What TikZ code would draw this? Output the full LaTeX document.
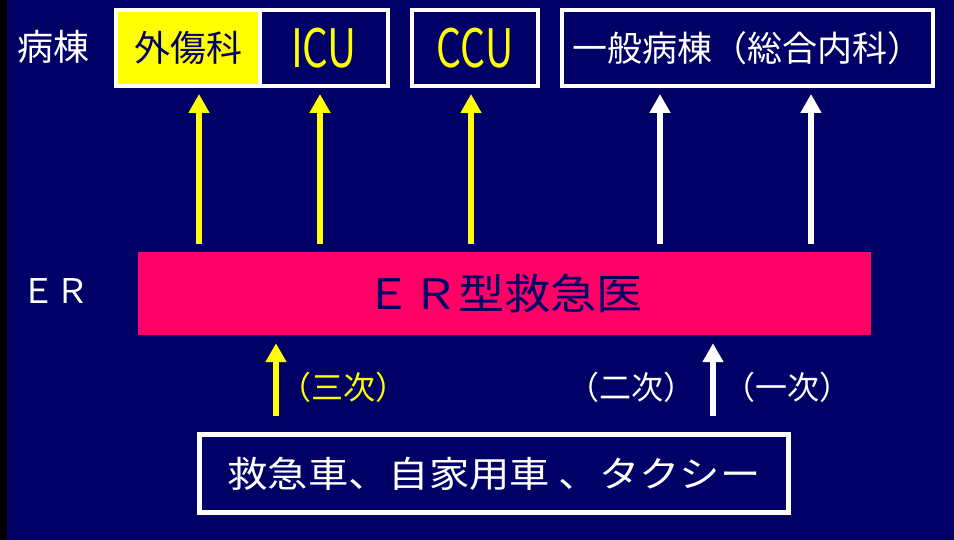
\documentclass[tikz,border=0pt]{standalone}
\usepackage{fontspec}
\usepackage{graphicx}
\setmainfont{Noto Sans CJK JP}
\usetikzlibrary{arrows.meta}
\definecolor{navy}{HTML}{000066}
\definecolor{hotpink}{HTML}{FF0066}
\definecolor{yel}{HTML}{FFFF00}
\newcommand{\fs}[1]{\fontsize{#1}{#1}\selectfont}
\begin{document}
\begin{tikzpicture}[x=1pt,y=-1pt,
  wardbox/.style={draw=white, line width=4pt, inner sep=0pt, outer sep=2pt},
  yarr/.style={draw=yel, line width=6pt, -{Triangle[width=20pt,length=19pt]}},
  warr/.style={draw=white, line width=6pt, -{Triangle[width=20pt,length=19pt]}},
  lbl/.style={inner sep=0pt, text=white}
]
\useasboundingbox (0,0) rectangle (954,540);
\fill[navy] (0,0) rectangle (954,540);
\fill[black] (0,0) rectangle (7,540);

% ward label
\node[lbl] (byoto) at (53,47) {\fs{36}病棟};
% ward boxes
\node[wardbox, fill=yel, minimum width=144pt, minimum height=76pt] (trauma) at (188,48) {\fs{36}\color{navy}外傷科};
\node[wardbox, minimum width=128pt, minimum height=76pt] (icu) at (324,48) {\scalebox{0.76}[1]{\fs{53}\color{yel}ICU}};
\node[wardbox, minimum width=126pt, minimum height=76pt] (ccu) at (475,48) {\scalebox{0.74}[1]{\fs{53}\color{yel}CCU}};
\node[wardbox, minimum width=371pt, minimum height=76pt] (gen) at (747.5,48) {\fs{35}\color{white}一般病棟（総合内科）};

% ER
\node[lbl] (erlbl) at (55,291) {\fs{34}ＥＲ};
\node[fill=hotpink, inner sep=0pt, minimum width=733pt, minimum height=83pt] (er) at (504.5,293.5) {\scalebox{1.1}[1]{\fs{42}\color{navy}ＥＲ型救急医}};

% bottom box
\node[draw=white, line width=5pt, inner sep=0pt, outer sep=2.5pt, minimum width=589pt, minimum height=78pt] (veh) at (494,473.5) {\scalebox{1.12}[1]{\fs{36}\color{white}救急車、自家用車 、タクシー}};

% arrow columns
\coordinate (c1) at (199,0);
\coordinate (c2) at (320,0);
\coordinate (c3) at (471,0);
\coordinate (c4) at (660,0);
\coordinate (c5) at (811,0);
\coordinate (c6) at (276,0);
\coordinate (c7) at (713,0);

\draw[yarr, shorten <=8pt, shorten >=6pt] (er.north -| c1) -- (trauma.south -| c1);
\draw[yarr, shorten <=8pt, shorten >=6pt] (er.north -| c2) -- (icu.south -| c2);
\draw[yarr, shorten <=8pt, shorten >=6pt] (er.north -| c3) -- (ccu.south -| c3);
\draw[warr, shorten <=8pt, shorten >=6pt] (er.north -| c4) -- (gen.south -| c4);
\draw[warr, shorten <=8pt, shorten >=6pt] (er.north -| c5) -- (gen.south -| c5);

\draw[yarr, shorten <=16pt, shorten >=8pt] (veh.north -| c6) -- (er.south -| c6);
\draw[warr, shorten <=16pt, shorten >=8pt] (veh.north -| c7) -- (er.south -| c7);

% level labels
\node[lbl, text=yel] (san) at (343.5,387) {\fs{32}（三次）};
\node[lbl] (ni) at (631,387) {\fs{32}（二次）};
\node[lbl] (ichi) at (787,387) {\fs{32}（一次）};
\end{tikzpicture}
\end{document}
